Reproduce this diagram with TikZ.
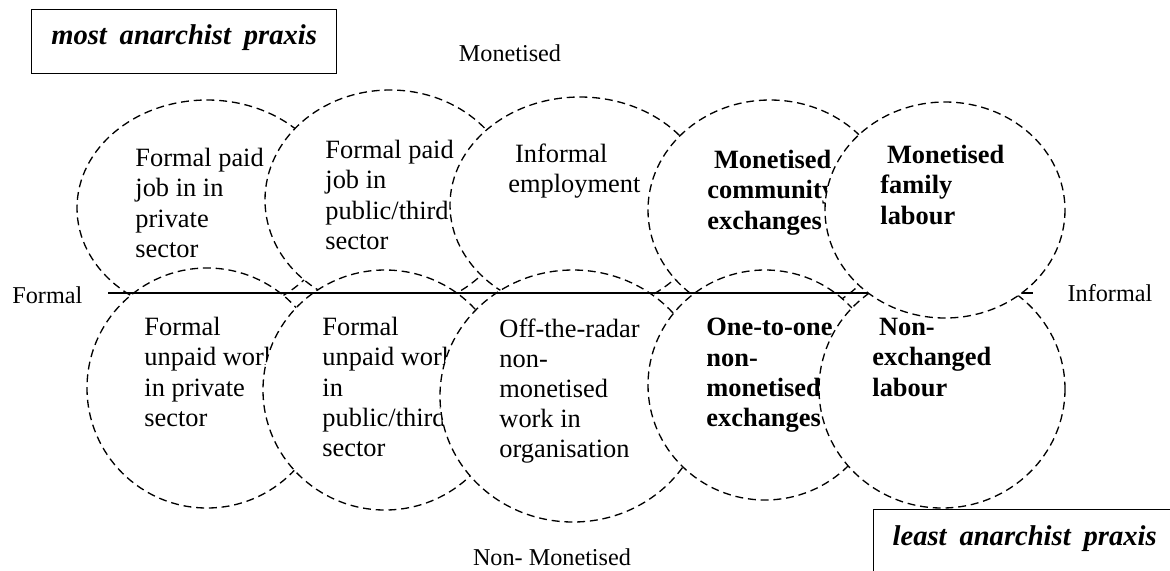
\documentclass[tikz,border=0pt]{standalone}
\usepackage{fontspec}
\setmainfont{Liberation Serif}
\usetikzlibrary{positioning}

\begin{document}
\begin{tikzpicture}[
x=0.4545pt, y=-0.4545pt,
region/.style={
  draw,
  fill=white,
  line width=0.6pt,
  dash pattern=on 3.6pt off 2.2pt
  },
txt/.style={
  anchor=north west,
  align=left,
  inner sep=0pt,
  font=\fontsize{12}{13.7}\selectfont
  },
btxt/.style={
  txt,
  font=\fontsize{12}{13.7}\selectfont\bfseries
  },
axislbl/.style={
  inner sep=0pt,
  font=\fontsize{11}{13}\selectfont
  },
praxis/.style={
  draw,
  line width=0.6pt,
  anchor=north west,
  inner sep=0pt,
  text depth=6.4pt,
  font=\fontsize{13}{15}\selectfont\bfseries\itshape
  }
]
\useasboundingbox (0,0) rectangle (1170,570);
\clip (0,0) rectangle (1170,570);

% monetised row and non-monetised row, drawn in stacking order
\draw[region] (207,208) ellipse [x radius=130, y radius=108];
\node[txt] (paidpriv) at (135,148) {Formal paid\\job in in\\private\\sector};
\draw[region] (207,388) ellipse [x radius=120, y radius=120];
\node[txt] (unpaidpriv) at (144,317) {Formal\\unpaid work\\in private\\sector};
\draw[region] (390,200) ellipse [x radius=125, y radius=110];
\node[txt] (paidpub) at (325,140) {Formal paid\\job in\\public/third\\sector};
\draw[region] (385,390) ellipse [x radius=122, y radius=120];
\node[txt] (unpaidpub) at (322,317) {Formal\\unpaid work\\in\\public/third\\sector};
\draw[region] (580,205) ellipse [x radius=130, y radius=108];
\node[txt] (informal) at (508,143) {\hspace*{3pt}Informal\\employment};
\draw[region] (573,396) ellipse [x radius=133, y radius=126];
\node[txt] (offradar) at (499,318) {Off-the-radar\\non-\\monetised\\work in\\organisation};
\draw[region] (770,210) ellipse [x radius=122, y radius=110];
\node[btxt] (community) at (707,150) {\hspace*{3pt}Monetised\\community\\exchanges};
\draw[region] (765,385) ellipse [x radius=117, y radius=115];
\node[btxt] (onetoone) at (706,318) {One-to-one\\non-\\monetised\\exchanges};

% formal -- informal axis
\node[axislbl, anchor=west] (formal) at (12,295) {Formal};
\node[axislbl] (infor) at (1110,293) {Informal};
\coordinate (axL) at (108,293);
\coordinate (axR) at (1033,293);
\draw[line width=0.7pt] (axL) -- (axR);

\draw[region] (942,389) ellipse [x radius=123, y radius=119];
\node[btxt] (nonexch) at (872,318) {\hspace*{3pt}Non-\\exchanged\\labour};
\draw[region] (945,210) ellipse [x radius=120, y radius=108];
\node[btxt] (family) at (880,145) {\hspace*{3pt}Monetised\\family\\labour};

\node[axislbl] (mon) at (510,53) {Monetised};
\node[axislbl] (nonmon) at (552,557) {Non- Monetised};

\node[praxis, minimum width=138.6pt, minimum height=29.1pt] (most) at (31,9)
  {most\hspace{0.45em}anarchist\hspace{0.45em}praxis};
\node[praxis, minimum width=137.3pt, minimum height=30pt] (least) at (873,509)
  {least\hspace{0.45em}anarchist\hspace{0.45em}praxis};
\end{tikzpicture}
\end{document}
